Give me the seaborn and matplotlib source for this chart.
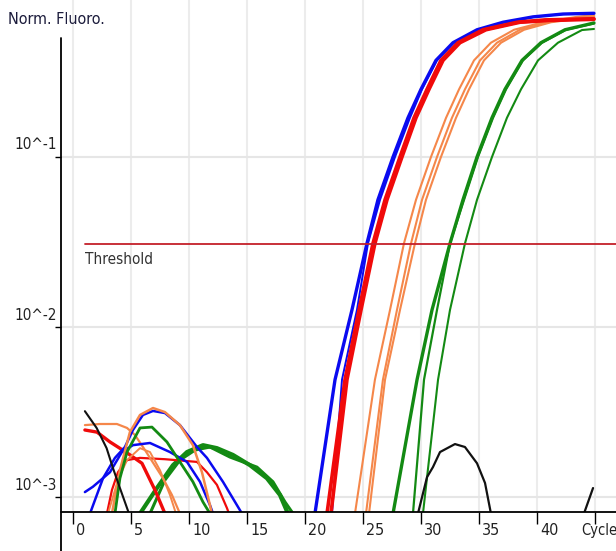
import matplotlib
matplotlib.use("Agg")
import matplotlib.pyplot as plt
import seaborn as sns
from matplotlib.lines import Line2D
from matplotlib.transforms import ScaledTranslation

# ---- data (cycle, normalised fluorescence) ----
x_ticks = [0, 5, 10, 15, 20, 25, 30, 35, 40, 45]
x_labels = ["0", "5", "10", "15", "20", "25", "30", "35", "40", "Cycle"]
y_ticks = [1e-3, 1e-2, 1e-1]
y_labels = ["10^-3", "10^-2", "10^-1"]
threshold = 0.0308

# amplification curves
blue1_cyc = [20.86, 22.59, 24.05, 25.34, 26.29, 27.59, 28.88, 30.00, 31.29, 32.76, 34.83, 37.07, 39.66, 42.24, 44.91]
blue1_fl = [8.0e-4, 4.9e-3, 1.26e-2, 0.031, 0.056, 0.10, 0.17, 0.25, 0.37, 0.47, 0.56, 0.62, 0.667, 0.693, 0.70]
blue2_cyc = [22.33, 23.19, 24.48, 25.43, 26.47, 27.76, 29.05, 30.09, 31.38, 32.84, 34.91, 37.16, 39.74, 42.33, 44.91]
blue2_fl = [8.0e-4, 4.9e-3, 1.26e-2, 0.031, 0.056, 0.10, 0.17, 0.25, 0.37, 0.47, 0.56, 0.62, 0.667, 0.693, 0.70]
red1_cyc = [21.90, 23.45, 24.66, 25.86, 26.90, 28.19, 29.40, 30.52, 31.72, 33.19, 35.34, 38.28, 40.69, 44.91]
red1_fl = [8.0e-4, 4.9e-3, 1.26e-2, 0.031, 0.056, 0.10, 0.17, 0.25, 0.37, 0.47, 0.56, 0.62, 0.64, 0.65]
red2_cyc = [22.24, 23.62, 24.83, 26.03, 27.07, 28.36, 29.57, 30.69, 31.90, 33.36, 35.60, 38.53, 40.95, 44.91]
red2_fl = [8.0e-4, 4.9e-3, 1.26e-2, 0.031, 0.056, 0.10, 0.17, 0.25, 0.37, 0.47, 0.56, 0.62, 0.635, 0.645]
orange1_cyc = [24.31, 26.03, 27.33, 28.53, 29.57, 30.86, 32.16, 33.28, 34.57, 36.03, 38.02, 40.52, 43.45, 44.91]
orange1_fl = [8.0e-4, 4.9e-3, 1.26e-2, 0.031, 0.056, 0.10, 0.17, 0.25, 0.37, 0.47, 0.56, 0.62, 0.667, 0.684]
orange2_cyc = [25.26, 26.72, 27.93, 29.14, 30.09, 31.38, 32.67, 33.79, 35.09, 36.55, 38.53, 40.95, 43.79, 44.91]
orange2_fl = [8.0e-4, 4.9e-3, 1.26e-2, 0.031, 0.056, 0.10, 0.17, 0.25, 0.37, 0.47, 0.56, 0.62, 0.667, 0.675]
orange3_cyc = [25.52, 26.90, 28.19, 29.48, 30.43, 31.72, 33.02, 34.14, 35.43, 36.90, 38.88, 41.21, 44.14, 44.91]
orange3_fl = [8.0e-4, 4.9e-3, 1.26e-2, 0.031, 0.056, 0.10, 0.17, 0.25, 0.37, 0.47, 0.56, 0.62, 0.658, 0.667]
green1_cyc = [27.59, 29.66, 30.95, 32.50, 33.62, 34.83, 36.12, 37.24, 38.71, 40.34, 42.41, 44.91]
green1_fl = [8.0e-4, 4.9e-3, 1.26e-2, 0.031, 0.056, 0.10, 0.17, 0.25, 0.37, 0.47, 0.56, 0.614]
green2_cyc = [29.31, 30.26, 31.38, 32.50, 33.71, 34.91, 36.21, 37.33, 38.79, 40.43, 42.50, 44.91]
green2_fl = [8.0e-4, 4.9e-3, 1.26e-2, 0.031, 0.056, 0.10, 0.17, 0.25, 0.37, 0.47, 0.56, 0.61]
green3_cyc = [30.17, 31.47, 32.50, 33.79, 34.83, 36.12, 37.41, 38.62, 40.09, 41.81, 43.88, 44.91]
green3_fl = [8.0e-4, 4.9e-3, 1.26e-2, 0.031, 0.056, 0.10, 0.17, 0.25, 0.37, 0.47, 0.558, 0.566]
black_cyc = [29.74, 30.52, 31.03, 31.64, 32.93, 33.79, 34.83, 35.52, 36.03]
black_fl = [8.0e-4, 1.31e-3, 1.5e-3, 1.84e-3, 2.05e-3, 1.97e-3, 1.58e-3, 1.21e-3, 8.0e-4]
black_end_cyc = [44.05, 44.83]
black_end_fl = [8.0e-4, 1.13e-3]

# early-cycle noise
nblack_cyc = [1.03, 2.04, 2.90, 3.45, 4.05, 4.83]
nblack_fl = [3.2e-3, 2.55e-3, 1.94e-3, 1.48e-3, 1.13e-3, 8.0e-4]
norange1_cyc = [3.36, 4.05, 4.91, 5.78, 6.90, 7.93, 9.22, 10.34, 11.12, 11.81, 11.98]
norange1_fl = [8.0e-4, 1.44e-3, 2.41e-3, 3.04e-3, 3.34e-3, 3.16e-3, 2.65e-3, 2.02e-3, 1.40e-3, 8.97e-4, 8.0e-4]
norange2_cyc = [1.03, 2.33, 3.79, 4.66, 5.34, 6.21, 7.76, 8.53, 9.22]
norange2_fl = [2.65e-3, 2.69e-3, 2.69e-3, 2.55e-3, 2.32e-3, 1.89e-3, 1.29e-3, 1.03e-3, 8.0e-4]
norange3_cyc = [3.02, 3.88, 4.66, 5.78, 6.64, 7.50, 8.36, 8.88]
norange3_fl = [8.0e-4, 1.26e-3, 1.65e-3, 1.94e-3, 1.84e-3, 1.44e-3, 1.03e-3, 8.0e-4]
nblue1_cyc = [1.47, 2.59, 3.62, 4.48, 5.17, 6.03, 6.90, 7.93, 9.22, 10.69, 11.55, 12.93, 14.57]
nblue1_fl = [8.0e-4, 1.29e-3, 1.70e-3, 1.97e-3, 2.48e-3, 3.04e-3, 3.21e-3, 3.12e-3, 2.65e-3, 1.97e-3, 1.70e-3, 1.23e-3, 8.0e-4]
nblue2_cyc = [1.03, 1.72, 3.19, 4.22, 5.17, 6.64, 8.36, 9.83, 10.95, 11.81, 12.07]
nblue2_fl = [1.07e-3, 1.15e-3, 1.40e-3, 1.84e-3, 2.02e-3, 2.08e-3, 1.84e-3, 1.61e-3, 1.23e-3, 8.97e-4, 8.0e-4]
nred1_cyc = [1.03, 2.07, 3.19, 4.66, 5.95, 7.07, 7.93]
nred1_fl = [2.48e-3, 2.41e-3, 2.11e-3, 1.82e-3, 1.58e-3, 1.10e-3, 8.0e-4]
nred2_cyc = [2.93, 3.36, 3.88, 4.66, 5.78, 7.93, 10.69, 11.55, 12.41, 13.28, 13.45]
nred2_fl = [8.0e-4, 1.10e-3, 1.40e-3, 1.65e-3, 1.70e-3, 1.67e-3, 1.61e-3, 1.40e-3, 1.18e-3, 8.6e-4, 8.0e-4]
ngreen1_cyc = [3.62, 4.05, 4.66, 5.78, 6.81, 8.10, 9.22, 10.34, 11.21, 11.81]
ngreen1_fl = [8.0e-4, 1.29e-3, 1.84e-3, 2.55e-3, 2.58e-3, 2.11e-3, 1.61e-3, 1.23e-3, 9.35e-4, 8.0e-4]
ngreen2_cyc = [5.78, 7.24, 8.62, 9.83, 11.21, 12.41, 13.79, 15.26, 16.72, 17.84, 18.53]
ngreen2_fl = [8.0e-4, 1.13e-3, 1.54e-3, 1.84e-3, 2.02e-3, 1.94e-3, 1.77e-3, 1.54e-3, 1.29e-3, 1.03e-3, 8.0e-4]
ngreen3_cyc = [6.64, 7.93, 9.22, 10.52, 11.81, 13.53, 15.86, 17.24, 18.28, 18.97]
ngreen3_fl = [8.0e-4, 1.26e-3, 1.65e-3, 1.89e-3, 1.97e-3, 1.72e-3, 1.50e-3, 1.23e-3, 9.35e-4, 8.0e-4]

BLUE, RED, ORANGE, GREEN, BLACK = "#0a0af0", "#f00a0a", "#f5874a", "#138a13", "#111111"

curves = [
    (ngreen2_cyc, ngreen2_fl, GREEN, 3.0),
    (ngreen3_cyc, ngreen3_fl, GREEN, 2.2),
    (nred2_cyc, nred2_fl, RED, 1.6),
    (nred1_cyc, nred1_fl, RED, 2.4),
    (norange2_cyc, norange2_fl, ORANGE, 1.6),
    (norange3_cyc, norange3_fl, ORANGE, 1.4),
    (nblue2_cyc, nblue2_fl, BLUE, 1.8),
    (nblue1_cyc, nblue1_fl, BLUE, 1.8),
    (norange1_cyc, norange1_fl, ORANGE, 1.8),
    (ngreen1_cyc, ngreen1_fl, GREEN, 2.0),
    (nblack_cyc, nblack_fl, BLACK, 1.5),
    (green3_cyc, green3_fl, GREEN, 1.5),
    (green2_cyc, green2_fl, GREEN, 1.6),
    (green1_cyc, green1_fl, GREEN, 2.4),
    (orange3_cyc, orange3_fl, ORANGE, 1.5),
    (orange2_cyc, orange2_fl, ORANGE, 1.5),
    (orange1_cyc, orange1_fl, ORANGE, 1.5),
    (blue2_cyc, blue2_fl, BLUE, 1.4),
    (blue1_cyc, blue1_fl, BLUE, 2.4),
    (red2_cyc, red2_fl, RED, 2.6),
    (red1_cyc, red1_fl, RED, 2.6),
    (black_cyc, black_fl, BLACK, 1.6),
    (black_end_cyc, black_end_fl, BLACK, 1.6),
]

sns.set_style("white")
plt.rcParams["font.family"] = ["DejaVu Sans"]
plt.rcParams["font.stretch"] = "condensed"
TXT = dict(family="DejaVu Sans", stretch="condensed")

W, H = 616, 551
fig = plt.figure(figsize=(W / 100, H / 100), dpi=100)
ax = fig.add_axes([61 / W, 39 / H, 555 / W, 512 / H])
ax.set_yscale("log")
ax.set_xlim(-1.03, 46.81)
ax.set_ylim(8.17e-4, 0.838)
for s in ax.spines.values():
    s.set_visible(False)

# grid
for c in x_ticks:
    ax.axvline(c, color="#ececec", lw=1.5, zorder=0)
for v in y_ticks:
    ax.axhline(v, color="#e6e6e6", lw=1.5, zorder=0)

for cyc, fl, col, lw in curves:
    sns.lineplot(x=cyc, y=fl, color=col, linewidth=lw, ax=ax, sort=False,
                 estimator=None, solid_joinstyle="round", solid_capstyle="round")

# threshold
ax.plot([1.03, 47], [threshold, threshold], color="#c4202a", lw=1.3)
ax.text(1.03, threshold, "Threshold", fontsize=11, color="#333333", ha="left", va="top",
        transform=ax.transData + ScaledTranslation(0, -0.08, fig.dpi_scale_trans), **TXT)

# ticks and labels
ax.set_xticks(x_ticks)
ax.set_yticks(y_ticks)
ax.minorticks_off()
ax.tick_params(axis="x", direction="out", length=8.6, width=1.0, color="black",
               bottom=True, labelbottom=False)
ax.tick_params(axis="y", direction="out", length=4.3, width=1.0, color="black",
               left=True, labelleft=False)

for c, lab in zip(x_ticks, x_labels):
    if lab == "Cycle":
        off = ScaledTranslation(-0.14, -0.11, fig.dpi_scale_trans)
        size = 10.5
    else:
        off = ScaledTranslation(0.03, -0.11, fig.dpi_scale_trans)
        size = 11.5
    ax.text(c, 0, lab, fontsize=size, color="#222222", ha="left", va="top",
            transform=ax.get_xaxis_transform() + off, **TXT)

for v, lab in zip(y_ticks, y_labels):
    ax.text(0, v, lab, fontsize=11, color="#222222", ha="right", va="center",
            transform=ax.get_yaxis_transform() + ScaledTranslation(-0.04, 0.12, fig.dpi_scale_trans), **TXT)

fig.text(8 / W, 1 - 20 / H, "Norm. Fluoro.", fontsize=11.5, color="#1c1c3c", ha="left", va="center", **TXT)

# axis lines (y-axis runs past the x-axis, like the instrument software)
fig.add_artist(Line2D([61 / W, 61 / W], [0, 1 - 38 / H], transform=fig.transFigure, color="black", lw=1.3))
fig.add_artist(Line2D([61 / W, 1], [39 / H, 39 / H], transform=fig.transFigure, color="black", lw=1.3))

fig.savefig("out.png", dpi=100)
